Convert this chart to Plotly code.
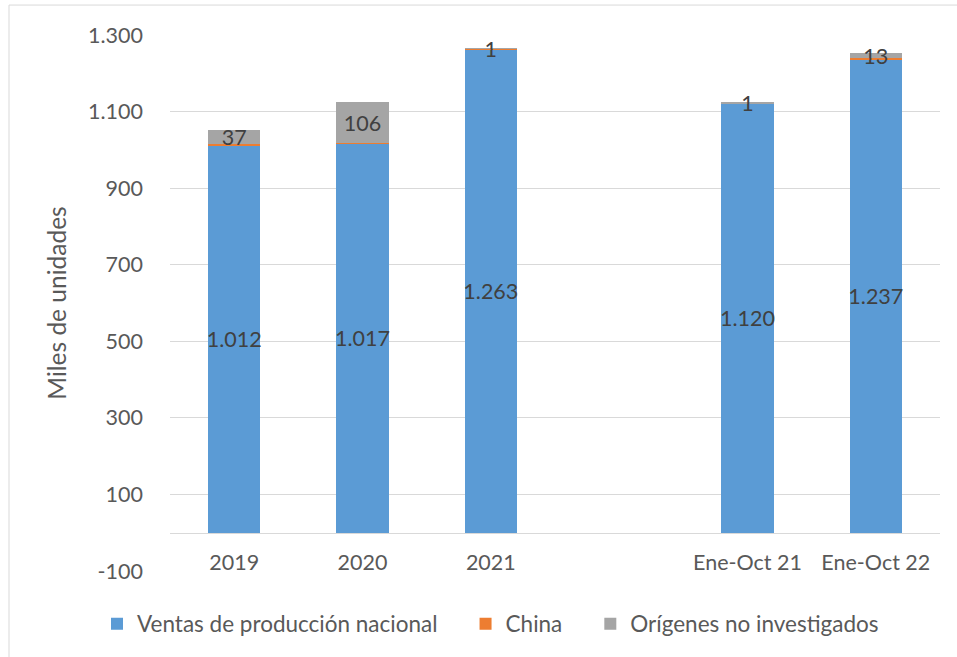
import plotly.graph_objects as go

categories = ["2019", "2020", "2021", " ", "Ene-Oct 21", "Ene-Oct 22"]
nacional = [1012, 1017, 1263, None, 1120, 1237]
china = [3, 1, 2, None, 2, 2]
no_investigados = [37, 106, 1, None, 1, 13]

y_ticks = [-100, 100, 300, 500, 700, 900, 1100, 1300]

def fmt(v):
    return "" if v is None else f"{v:,}".replace(",", ".")

FONT = "Lato"
FS = 21.5
BLUE, ORANGE, GRAY = "#5B9BD5", "#ED7D31", "#A5A5A5"
PAD = "\u00a0" * 4

fig = go.Figure()
fig.add_trace(go.Bar(
    x=categories, y=nacional, name="Ventas de producción nacional" + PAD,
    marker=dict(color=BLUE, line=dict(width=0)),
    text=[fmt(v) for v in nacional], textposition="inside", textangle=0,
    insidetextanchor="middle", constraintext="none",
    textfont=dict(color="#404040", size=FS, family=FONT),
))
fig.add_trace(go.Bar(
    x=categories, y=china, name="China" + PAD,
    marker=dict(color=ORANGE, line=dict(width=0)),
))
fig.add_trace(go.Bar(
    x=categories, y=no_investigados, name="Orígenes no investigados",
    marker=dict(color=GRAY, line=dict(width=0)),
    text=[fmt(v) for v in no_investigados], textposition="inside", textangle=0,
    insidetextanchor="middle", constraintext="none",
    textfont=dict(color="#404040", size=FS, family=FONT),
))

fig.update_layout(
    width=957, height=657,
    margin=dict(l=170, r=17, t=35, b=85),
    barmode="stack", bargap=0.59,
    separators=",.",
    paper_bgcolor="white", plot_bgcolor="white",
    font=dict(family=FONT, size=FS, color="#595959"),
    uniformtext=dict(minsize=FS, mode="show"),
    showlegend=True,
    legend=dict(orientation="h", x=(97 - 170) / 770, xanchor="left",
                y=-0.097, yanchor="middle",
                font=dict(size=22.5, color="#595959"), traceorder="normal",
                itemwidth=30),
    xaxis=dict(
        type="category", anchor="free", position=100 / 1400,
        showline=True, linecolor="#d9d9d9", linewidth=1,
        showgrid=False, ticks="", ticklabelstandoff=10,
        tickfont=dict(size=FS, color="#595959"),
    ),
    yaxis=dict(
        range=[-100, 1300], tickvals=y_ticks, ticktext=[fmt(v) for v in y_ticks],
        showgrid=True, gridcolor="#d9d9d9", gridwidth=1,
        zeroline=False, showline=False, ticks="", ticklabelstandoff=26,
        tickfont=dict(size=FS, color="#595959"),
        title=dict(text="Miles de unidades", font=dict(size=24.5, color="#595959"), standoff=14),
    ),
    shapes=[dict(type="rect", xref="paper", yref="paper",
                 x0=(9 - 170) / 770, x1=(962 - 170) / 770,
                 y0=(572 - 662) / 537, y1=(572 - 5) / 537,
                 line=dict(color="#d9d9d9", width=1), layer="below")],
)

fig.write_html("out.html", config={"displayModeBar": False},
               post_script="document.body.style.margin='0px';")
